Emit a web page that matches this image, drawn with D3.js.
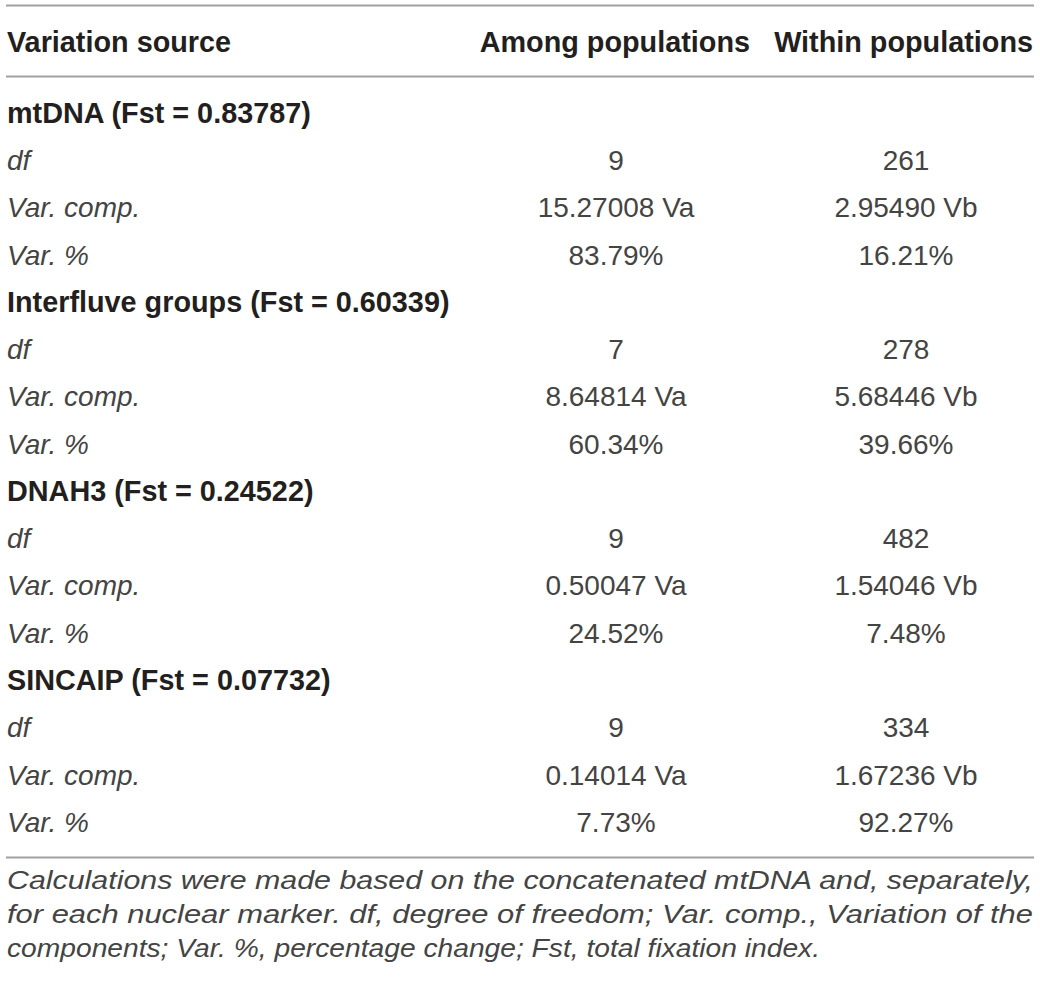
<!DOCTYPE html>
<html>
<head>
<meta charset="utf-8">
<script src="https://cdn.jsdelivr.net/npm/d3@7"></script>
<style>
  body { margin: 0; background: #fff; }
  text { font-family: "Liberation Sans", Arial, Helvetica, sans-serif; }
</style>
</head>
<body>
<div id="table"></div>
<script>
// Table data
var headers = ["Variation source", "Among populations", "Within populations"];
var sections = ["mtDNA", "Interfluve groups", "DNAH3", "SINCAIP"];
var fstValues = ["0.83787", "0.60339", "0.24522", "0.07732"];
var rowLabels = ["df", "Var. comp.", "Var. %"];
var dfAmong = ["9", "7", "9", "9"];
var dfWithin = ["261", "278", "482", "334"];
var compAmong = ["15.27008 Va", "8.64814 Va", "0.50047 Va", "0.14014 Va"];
var compWithin = ["2.95490 Vb", "5.68446 Vb", "1.54046 Vb", "1.67236 Vb"];
var pctAmong = ["83.79%", "60.34%", "24.52%", "7.73%"];
var pctWithin = ["16.21%", "39.66%", "7.48%", "92.27%"];
var footnote = [
  "Calculations were made based on the concatenated mtDNA and, separately,",
  "for each nuclear marker. df, degree of freedom; Var. comp., Variation of the",
  "components; Var. %, percentage change; Fst, total fixation index."
];

var svgWidth = 1040;
var svgHeight = 981;
var margin = { left: 6, right: 6 };

var svg = d3.select("#table")
  .append("svg")
  .attr("width", svgWidth)
  .attr("height", svgHeight);

// build flat row list
var rows = [];
sections.forEach(function(s, i) {
  rows.push({ type: "section", label: s + " (Fst = " + fstValues[i] + ")" });
  rows.push({ type: "row", label: rowLabels[0], among: dfAmong[i], within: dfWithin[i] });
  rows.push({ type: "row", label: rowLabels[1], among: compAmong[i], within: compWithin[i] });
  rows.push({ type: "row", label: rowLabels[2], among: pctAmong[i], within: pctWithin[i] });
});

var yRow = d3.scalePoint()
  .domain(d3.range(rows.length))
  .range([113, 822]);

var xCol = d3.scaleOrdinal()
  .domain(["label", "among", "within"])
  .range([7, 616, 906]);

var ruleColor = "#a0a0a0";
var textColor = "#231f20";
var lightColor = "#444";
var fsBold = 28.8;
var fs = 28;

// rules
[5.5, 76.5, 857.5].forEach(function(y) {
  svg.append("line")
    .attr("x1", margin.left).attr("x2", svgWidth - margin.right)
    .attr("y1", y).attr("y2", y)
    .attr("stroke", ruleColor)
    .attr("stroke-width", 2);
});

// header
svg.selectAll(".hdr")
  .data(headers)
  .enter()
  .append("text")
  .attr("class", "hdr")
  .attr("x", function(d, i) { return i === 0 ? xCol("label") : (i === 1 ? 750 : 1033); })
  .attr("y", 42)
  .attr("dy", "0.35em")
  .attr("text-anchor", function(d, i) { return i === 0 ? "start" : "end"; })
  .attr("font-weight", "bold")
  .attr("font-size", fsBold)
  .attr("fill", textColor)
  .text(function(d) { return d; });

// body rows
var rowG = svg.selectAll(".row")
  .data(rows)
  .enter()
  .append("g")
  .attr("class", "row")
  .attr("transform", function(d, i) { return "translate(0," + yRow(i) + ")"; });

rowG.append("text")
  .attr("x", xCol("label"))
  .attr("dy", "0.35em")
  .attr("font-size", function(d) { return d.type === "section" ? fsBold : fs; })
  .attr("font-weight", function(d) { return d.type === "section" ? "bold" : "normal"; })
  .attr("font-style", function(d) { return d.type === "section" ? "normal" : "italic"; })
  .attr("fill", function(d) { return d.type === "section" ? textColor : lightColor; })
  .text(function(d) { return d.label; });

rowG.filter(function(d) { return d.type === "row"; })
  .selectAll(".val")
  .data(function(d) { return [["among", d.among], ["within", d.within]]; })
  .enter()
  .append("text")
  .attr("class", "val")
  .attr("x", function(d) { return xCol(d[0]); })
  .attr("dy", "0.35em")
  .attr("text-anchor", "middle")
  .attr("font-size", fs)
  .attr("fill", lightColor)
  .text(function(d) { return d[1]; });

// footnote: first two lines justified to full width
var footY = [880, 914, 948];
var footLen = [1026, 1026, 813];
svg.selectAll(".foot")
  .data(footnote)
  .enter()
  .append("text")
  .attr("class", "foot")
  .attr("x", 7)
  .attr("y", function(d, i) { return footY[i]; })
  .attr("dy", "0.35em")
  .attr("font-size", 26)
  .attr("font-style", "italic")
  .attr("fill", lightColor)
  .attr("textLength", function(d, i) { return footLen[i]; })
  .attr("lengthAdjust", "spacingAndGlyphs")
  .text(function(d) { return d; });
</script>
</body>
</html>
